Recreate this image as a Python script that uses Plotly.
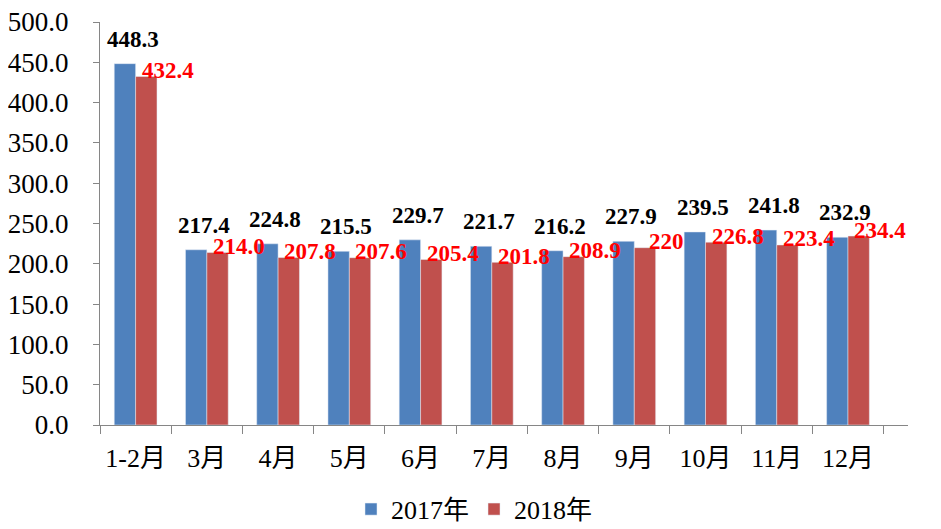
import plotly.graph_objects as go

months = ["1-2月", "3月", "4月", "5月", "6月", "7月", "8月", "9月", "10月", "11月", "12月"]
values_2017 = [448.3, 217.4, 224.8, 215.5, 229.7, 221.7, 216.2, 227.9, 239.5, 241.8, 232.9]
values_2018 = [432.4, 214.0, 207.8, 207.6, 205.4, 201.8, 208.9, 220, 226.8, 223.4, 234.4]
labels_2017 = ["448.3", "217.4", "224.8", "215.5", "229.7", "221.7", "216.2", "227.9", "239.5", "241.8", "232.9"]
labels_2018 = ["432.4", "214.0", "207.8", "207.6", "205.4", "201.8", "208.9", "220", "226.8", "223.4", "234.4"]

serif = "Liberation Serif, Times New Roman, Noto Sans CJK SC, serif"

fig = go.Figure()
fig.add_trace(go.Bar(x=months, y=values_2017, name="2017年", marker_color="#4F81BD"))
fig.add_trace(go.Bar(x=months, y=values_2018, name="2018年", marker_color="#C0504D"))

# data labels
for m, v, t in zip(months, values_2017, labels_2017):
    fig.add_annotation(x=m, y=v, text="<b>%s</b>" % t, showarrow=False,
                       xshift=-3, yshift=10, yanchor="bottom",
                       font=dict(family=serif, size=23, color="black"))
for m, v, t in zip(months, values_2018, labels_2018):
    fig.add_annotation(x=m, y=v, text="<b>%s</b>" % t, showarrow=False,
                       xshift=32, yshift=6, yanchor="middle",
                       font=dict(family=serif, size=23, color="red"))

# page body has an 8px margin, so the figure is made a bit smaller
fig.update_layout(
    width=933, height=521,
    paper_bgcolor="white", plot_bgcolor="white",
    margin=dict(l=92, r=33, t=14, b=104),
    barmode="group", bargap=0.4, bargroupgap=0,
    font=dict(family=serif, size=26, color="black"),
    showlegend=True,
    legend=dict(orientation="h", x=0.5, xref="container", xanchor="center",
                y=0.038, yref="container", yanchor="middle",
                font=dict(family=serif, size=26), itemwidth=30, tracegroupgap=0),
    xaxis=dict(showline=True, linecolor="#868686", ticks="outside", tickson="boundaries",
               ticklen=8, tickcolor="#868686", showgrid=False, automargin=False,
               ticklabelstandoff=10, tickfont=dict(family=serif, size=26)),
    yaxis=dict(range=[0, 500], dtick=50, tickformat=".1f", showline=True, linecolor="#868686",
               ticks="outside", ticklen=6, tickcolor="#868686", showgrid=False, zeroline=False,
               automargin=False, ticklabelstandoff=19, ticklabeloverflow="allow",
               tickfont=dict(family=serif, size=27)),
)

fig.write_html("out.html")
